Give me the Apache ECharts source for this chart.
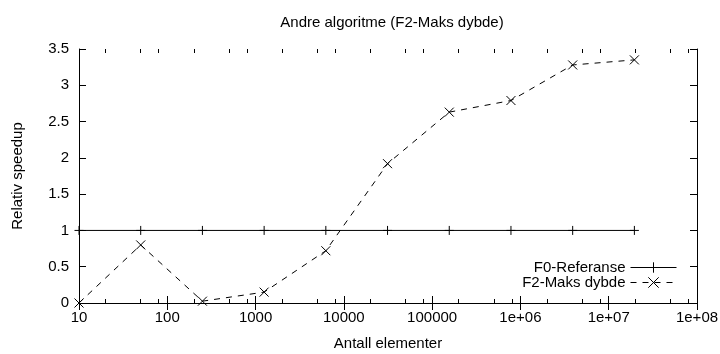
<!DOCTYPE html>
<html><head><meta charset="utf-8">
<script src="https://cdn.jsdelivr.net/npm/echarts@6/dist/echarts.min.js"></script>
<style>html,body{margin:0;padding:0;background:#fff}#c{width:720px;height:354px}</style>
</head><body><div id="c"></div>
<script>
const xValues = [10, 50, 250, 1250, 6250, 31250, 156250, 781250, 3906250, 19531250];
const refValues = [1, 1, 1, 1, 1, 1, 1, 1, 1, 1];
const f2Values = [0.0, 0.80, 0.025, 0.15, 0.72, 1.92, 2.63, 2.79, 3.28, 3.35];
const xTickValues = [10, 100, 1000, 10000, 100000, 1e6, 1e7, 1e8];
const xTickLabels = ['10', '100', '1000', '10000', '100000', '1e+06', '1e+07', '1e+08'];
const xMinorTicks = [];
for (let e = 1; e < 8; e++) { [2, 5, 8].forEach(m => xMinorTicks.push(m * Math.pow(10, e))); }

const FONT = 'Liberation Sans, Arial, sans-serif';
const FS = 15;
const plusPath = 'path://M5,0L5,10M0,5L10,5';
const crossPath = 'path://M0,0L10,10M10,0L0,10';

const chart = echarts.init(document.getElementById('c'), null, {renderer: 'canvas'});
const baseX = {type: 'log', logBase: 10, min: 10, max: 1e8, gridIndex: 0};
const lineBlack = {lineStyle: {color: '#000', width: 1}};
chart.setOption({
  animation: false,
  backgroundColor: '#fff',
  title: {text: 'Andre algoritme (F2-Maks dybde)', left: 387, textAlign: 'center', top: 10,
    textStyle: {fontFamily: FONT, fontSize: FS, fontWeight: 'normal', color: '#000'}},
  grid: {left: 79, right: 23, top: 49, bottom: 51, containLabel: false, outerBoundsMode: 'none'},
  legend: {orient: 'vertical', right: 38, top: 255, align: 'right', itemGap: 0,
    itemWidth: 46, itemHeight: 13,
    lineStyle: {width: 1},
    itemStyle: {borderWidth: 1},
    textStyle: {fontFamily: FONT, fontSize: FS, color: '#000'},
    data: ['F0-Referanse', 'F2-Maks dybde']},
  xAxis: [
    Object.assign({}, baseX, {position: 'bottom', name: 'Antall elementer', nameLocation: 'middle', nameGap: 33,
      nameTextStyle: {fontFamily: FONT, fontSize: FS, color: '#000'},
      axisLine: Object.assign({show: true}, lineBlack),
      axisTick: {show: true, inside: true, length: 7, customValues: xTickValues, lineStyle: {color: '#000'}},
      axisLabel: {show: true, customValues: xTickValues, margin: 7, fontFamily: FONT, fontSize: FS, color: '#000',
        formatter: v => { const i = xTickValues.findIndex(t => Math.abs(Math.log10(t) - Math.log10(v)) < 1e-6); return i >= 0 ? xTickLabels[i] : ''; }},
      splitLine: {show: false}}),
    Object.assign({}, baseX, {position: 'top',
      axisLine: Object.assign({show: true}, lineBlack),
      axisTick: {show: true, inside: true, length: 7, customValues: xTickValues, lineStyle: {color: '#000'}},
      axisLabel: {show: false}, splitLine: {show: false}}),
    Object.assign({}, baseX, {position: 'bottom',
      axisLine: {show: false},
      axisTick: {show: true, inside: true, length: 4, customValues: xMinorTicks, lineStyle: {color: '#000'}},
      axisLabel: {show: false}, splitLine: {show: false}}),
    Object.assign({}, baseX, {position: 'top',
      axisLine: {show: false},
      axisTick: {show: true, inside: true, length: 4, customValues: xMinorTicks, lineStyle: {color: '#000'}},
      axisLabel: {show: false}, splitLine: {show: false}})
  ],
  yAxis: [
    {type: 'value', min: 0, max: 3.5, interval: 0.5, position: 'left',
      name: 'Relativ speedup', nameLocation: 'middle', nameGap: 54, nameRotate: 90,
      nameTextStyle: {fontFamily: FONT, fontSize: FS, color: '#000'},
      axisLine: Object.assign({show: true}, lineBlack),
      axisTick: {show: true, inside: true, length: 7, lineStyle: {color: '#000'}},
      axisLabel: {margin: 10, fontFamily: FONT, fontSize: FS, color: '#000'},
      splitLine: {show: false}},
    {type: 'value', min: 0, max: 3.5, interval: 0.5, position: 'right',
      axisLine: Object.assign({show: true}, lineBlack),
      axisTick: {show: true, inside: true, length: 7, lineStyle: {color: '#000'}},
      axisLabel: {show: false}, splitLine: {show: false}}
  ],
  series: [
    {name: 'F0-Referanse', type: 'line', xAxisIndex: 0, yAxisIndex: 0,
      data: xValues.map((x, i) => [x, refValues[i]]),
      symbol: plusPath, symbolSize: 9, showAllSymbol: true,
      lineStyle: {color: '#000', width: 1, type: 'solid'},
      itemStyle: {color: '#000', borderColor: '#000', borderWidth: 1},
      emphasis: {disabled: true}},
    {name: 'F2-Maks dybde', type: 'line', xAxisIndex: 0, yAxisIndex: 0,
      data: xValues.map((x, i) => [x, f2Values[i]]),
      symbol: crossPath, symbolSize: 9, showAllSymbol: true,
      lineStyle: {color: '#000', width: 1, type: [6, 6]},
      itemStyle: {color: '#000', borderColor: '#000', borderWidth: 1},
      emphasis: {disabled: true}}
  ]
});
</script></body></html>
